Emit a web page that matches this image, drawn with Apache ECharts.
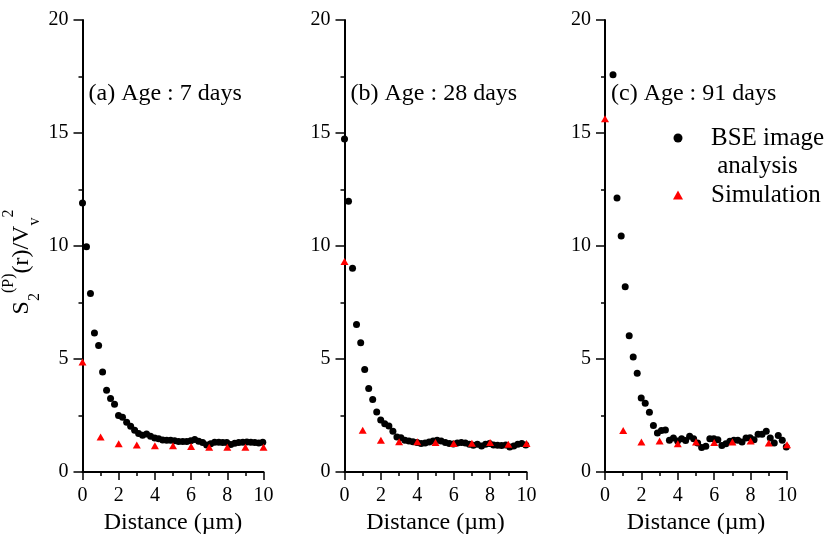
<!DOCTYPE html>
<html><head><meta charset="utf-8">
<script src="https://cdn.jsdelivr.net/npm/echarts@6/dist/echarts.min.js"></script>
<style>html,body{margin:0;padding:0;background:#fff}#c{width:825px;height:535px}</style>
</head><body><div id="c"></div>
<script>
// Distances (µm) of the BSE image-analysis points
const distance = [0,0.22,0.44,0.66,0.89,1.11,1.33,1.55,1.77,1.99,2.21,2.44,2.66,2.88,3.10,3.32,3.54,3.76,3.99,4.21,4.43,4.65,4.87,5.09,5.31,5.54,5.76,5.98,6.20,6.42,6.64,6.86,7.08,7.30,7.53,7.75,7.97,8.19,8.41,8.63,8.86,9.08,9.30,9.52,9.74,9.96];
const bse7 = [11.9,9.97,7.9,6.15,5.6,4.43,3.62,3.25,3.0,2.5,2.42,2.2,2.02,1.85,1.7,1.63,1.68,1.58,1.5,1.47,1.42,1.4,1.4,1.38,1.35,1.35,1.35,1.38,1.44,1.36,1.3,1.2,1.25,1.32,1.32,1.3,1.3,1.22,1.27,1.3,1.32,1.33,1.32,1.3,1.28,1.32];
const bse28 = [14.74,11.98,9.01,6.53,5.72,4.53,3.69,3.21,2.66,2.3,2.14,2.04,1.8,1.55,1.52,1.4,1.37,1.34,1.3,1.26,1.28,1.33,1.37,1.4,1.37,1.3,1.26,1.24,1.28,1.3,1.28,1.23,1.18,1.23,1.15,1.23,1.26,1.2,1.18,1.17,1.2,1.11,1.15,1.23,1.26,1.2];
const bse91 = [null,null,17.58,12.12,10.44,8.2,6.03,5.09,4.37,3.27,3.04,2.64,2.06,1.73,1.84,1.86,1.4,1.5,1.37,1.47,1.39,1.58,1.47,1.28,1.08,1.14,1.47,1.47,1.43,1.17,1.25,1.36,1.4,1.4,1.33,1.5,1.52,1.43,1.67,1.67,1.8,1.5,1.28,1.62,1.4,1.11];
// Simulation points
const simDistance = [0,1,2,3,4,5,6,7,8,9,10];
const sim7 = [4.87,1.55,1.25,1.19,1.16,1.16,1.13,1.09,1.09,1.1,1.09];
const sim28 = [9.31,1.85,1.4,1.34,1.34,1.3,1.26,1.27,1.3,1.23,1.26];
const sim91 = [15.63,1.84,1.33,1.37,1.25,1.33,1.31,1.33,1.37,1.28,1.21];
const panelLabels = ['(a) Age : 7 days','(b) Age : 28 days','(c) Age : 91 days'];
const xAxisTitle = 'Distance (µm)';
const seriesNames = ['BSE image analysis','Simulation'];

const FONT = 'Liberation Serif';
const grids = [{left:82.5,width:181},{left:344.5,width:182},{left:605,width:182}];
const bseAll = [bse7,bse28,bse91];
const simAll = [sim7,sim28,sim91];

const option = {
  backgroundColor:'#fff',
  animation:false,
  grid: grids.map(g=>({left:g.left,width:g.width,top:20,height:452,containLabel:false,outerBoundsMode:'none'})),
  xAxis: grids.map((g,i)=>({
    gridIndex:i,type:'value',min:0,max:10,interval:2,
    name:xAxisTitle,nameLocation:'middle',nameGap:38,
    nameTextStyle:{fontFamily:FONT,fontSize:24,color:'#000'},
    axisLine:{show:true,onZero:false,lineStyle:{color:'#000',width:2}},
    axisTick:{show:true,length:8,lineStyle:{color:'#000',width:1.5}},
    minorTick:{show:true,splitNumber:2,length:4,lineStyle:{color:'#000',width:1.5}},
    splitLine:{show:false},minorSplitLine:{show:false},
    axisLabel:{fontFamily:FONT,fontSize:20,color:'#000',margin:14}
  })),
  yAxis: grids.map((g,i)=>({
    gridIndex:i,type:'value',min:0,max:20,interval:5,
    axisLine:{show:true,onZero:false,lineStyle:{color:'#000',width:2}},
    axisTick:{show:true,length:9,lineStyle:{color:'#000',width:1.5}},
    minorTick:{show:true,splitNumber:2,length:4,lineStyle:{color:'#000',width:1.5}},
    splitLine:{show:false},minorSplitLine:{show:false},
    axisLabel:{fontFamily:FONT,fontSize:20,color:'#000',margin:14}
  })),
  legend:{
    data:seriesNames,orient:'vertical',left:668,top:91,
    itemWidth:10,itemHeight:9,itemGap:1,selectedMode:false,
    formatter:n=>n===seriesNames[0]?' \nBSE image\n analysis':n,
    textStyle:{fontFamily:FONT,fontSize:25,lineHeight:28,color:'#000',padding:[0,0,0,23]}
  },
  graphic:[
    ...panelLabels.map((t,i)=>({type:'text',x:grids[i].left+6,y:94,silent:true,
      style:{text:t,fontFamily:FONT,fontSize:24,fill:'#000',textAlign:'left',textVerticalAlign:'middle'}})),
    {type:'text',x:22,y:262,rotation:Math.PI/2,silent:true,
      style:{text:'{m|S}{sub|2}{sup|(P)}{m|(r)/V}{sub|v}{sup|2}',textAlign:'center',textVerticalAlign:'middle',
        rich:{
          m:{fontFamily:FONT,fontSize:24,fill:'#000',lineHeight:42,verticalAlign:'middle'},
          sub:{fontFamily:FONT,fontSize:16,fill:'#000',lineHeight:42,verticalAlign:'bottom'},
          sup:{fontFamily:FONT,fontSize:16,fill:'#000',lineHeight:42,verticalAlign:'top'}
        }}}
  ],
  series:[]
};
for(let i=0;i<3;i++){
  option.series.push({
    name:seriesNames[0],type:'scatter',xAxisIndex:i,yAxisIndex:i,
    symbol:'circle',symbolSize:7,itemStyle:{color:'#000',opacity:1},
    data:distance.map((d,k)=>[d,bseAll[i][k]]).filter(p=>p[1]!==null)
  });
  option.series.push({
    name:seriesNames[1],type:'scatter',xAxisIndex:i,yAxisIndex:i,
    symbol:'triangle',symbolSize:[8,7],itemStyle:{color:'#ff0000',opacity:1},
    data:simDistance.map((d,k)=>[d,simAll[i][k]])
  });
}
const chart = echarts.init(document.getElementById('c'),null,{renderer:'canvas'});
chart.setOption(option);
</script></body></html>
